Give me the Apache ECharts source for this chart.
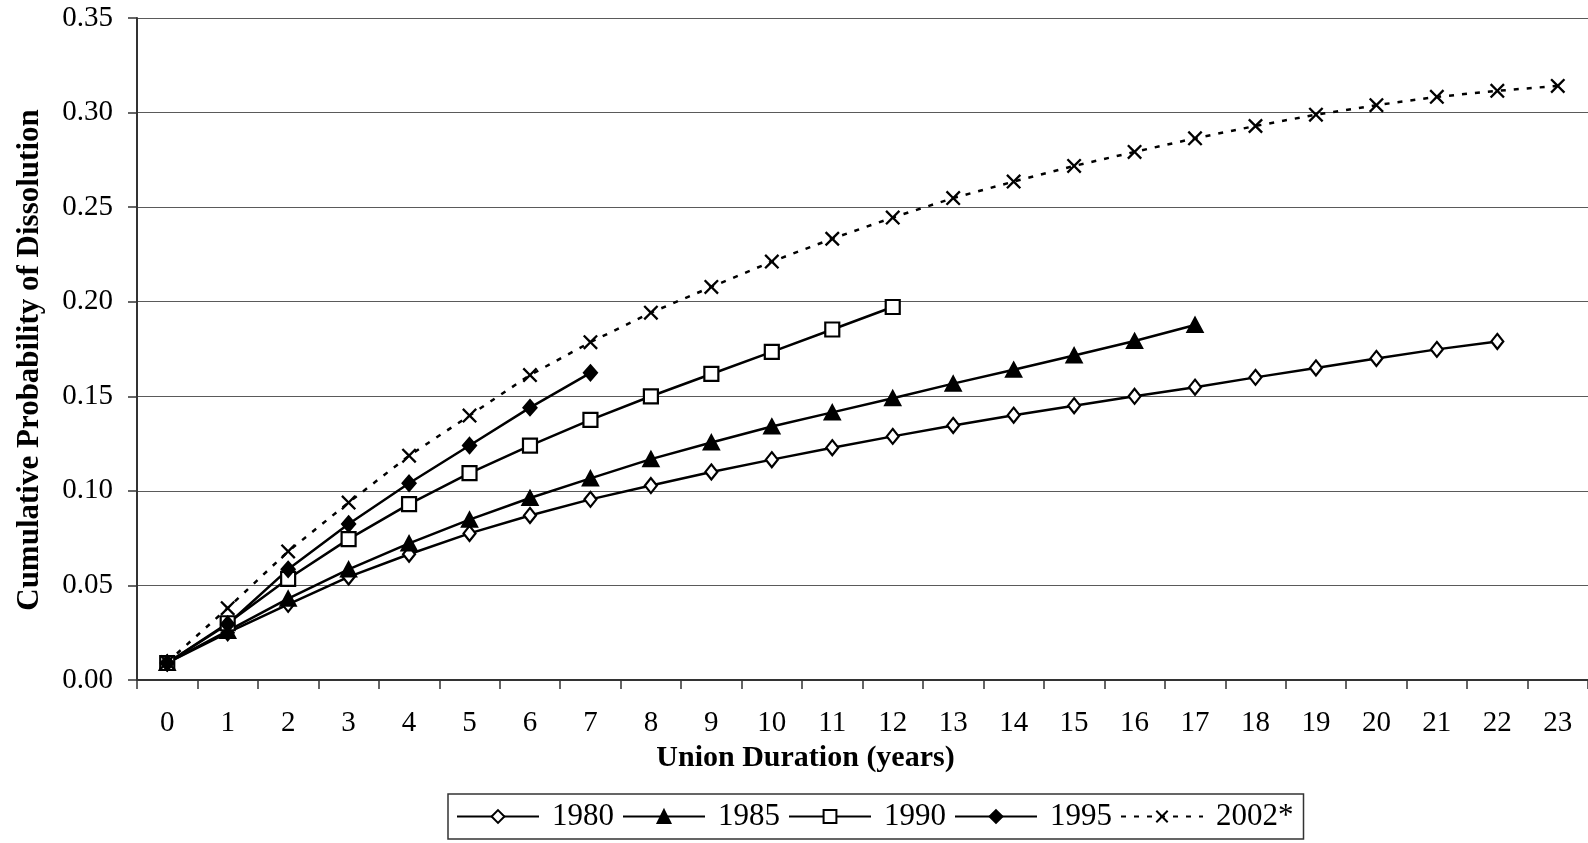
<!DOCTYPE html>
<html><head><meta charset="utf-8">
<script src="https://cdn.jsdelivr.net/npm/echarts@6/dist/echarts.min.js"></script>
<style>html,body{margin:0;padding:0;background:#fff;overflow:hidden}#c{width:1588px;height:843px}</style>
</head><body><div id="c"></div>
<script>
const categories = ['0','1','2','3','4','5','6','7','8','9','10','11','12','13','14','15','16','17','18','19','20','21','22','23'];
const yTicks = [0, 0.05, 0.10, 0.15, 0.20, 0.25, 0.30, 0.35];
const legendNames = ['1980', '1985', '1990', '1995', '2002*'];
const s1980 = [0.009,0.025,0.040,0.0545,0.0665,0.0775,0.087,0.0955,0.1028,0.110,0.1165,0.1228,0.1288,0.1346,0.140,0.145,0.150,0.1548,0.160,0.165,0.170,0.1748,0.179];
const s1985 = [0.009,0.026,0.043,0.0585,0.0722,0.0848,0.0962,0.1066,0.1168,0.1256,0.134,0.1415,0.149,0.1567,0.164,0.1716,0.1792,0.1877];
const s1990 = [0.009,0.030,0.0535,0.0745,0.093,0.1094,0.1239,0.1375,0.150,0.1618,0.1735,0.1853,0.1972];
const s1995 = [0.009,0.0295,0.0585,0.0825,0.104,0.124,0.144,0.1624];
const s2002 = [0.0094,0.038,0.068,0.0938,0.1186,0.1398,0.1612,0.1786,0.1942,0.2078,0.2212,0.2333,0.2445,0.2548,0.2635,0.2718,0.2792,0.2864,0.2929,0.2989,0.3039,0.3083,0.3115,0.3141];

const FONT = "'Liberation Serif','Times New Roman',serif";
const t = 1.1;
const xPath = `path://M0,${t}L${t},0L5,${5-t}L${10-t},0L10,${t}L${5+t},5L10,${10-t}L${10-t},10L5,${5+t}L${t},10L0,${10-t}L${5-t},5Z`;

function mk(name, data, symbol, size, fill, dashed) {
  return {
    name, type: 'line', data, symbol, symbolSize: size, showAllSymbol: true,
    lineStyle: { color: '#000', width: 2.5, type: dashed ? [5, 8] : 'solid' },
    itemStyle: { color: fill, borderColor: '#000', borderWidth: symbol === xPath ? 0 : 2.2 },
    emphasis: { disabled: true }, z: 3, animation: false
  };
}

const chart = echarts.init(document.getElementById('c'));
chart.setOption({
  animation: false,
  grid: { left: 137, top: 18, width: 1454, height: 662 },
  xAxis: {
    type: 'category', data: categories, boundaryGap: true,
    name: 'Union Duration (years)', nameLocation: 'middle', nameGap: 62,
    nameTextStyle: { fontFamily: FONT, fontSize: 30, fontWeight: 'bold', color: '#000', padding: [0, 114, 0, 0] },
    axisLine: { lineStyle: { color: '#333', width: 2 } },
    axisTick: { show: true, length: 9, lineStyle: { color: '#333', width: 1.5 } },
    axisLabel: { fontFamily: FONT, fontSize: 29, color: '#000', margin: 29 },
    splitLine: { show: false }
  },
  yAxis: {
    type: 'value', min: 0, max: 0.35, interval: 0.05,
    name: 'Cumulative Probability of Dissolution', nameLocation: 'middle', nameGap: 92,
    nameTextStyle: { fontFamily: FONT, fontSize: 31, fontWeight: 'bold', color: '#000', padding: [0, 22, 0, 0] },
    axisLine: { show: true, lineStyle: { color: '#333', width: 2 } },
    axisTick: { show: true, length: 9, lineStyle: { color: '#333', width: 1.5 } },
    axisLabel: { fontFamily: FONT, fontSize: 29, color: '#000', margin: 24,
      formatter: v => { const m = yTicks.find(x => Math.abs(x - v) < 1e-9); return (m !== undefined ? m : v).toFixed(2); } },
    splitLine: { show: true, lineStyle: { color: '#5a5a5a', width: 1.2 } }
  },
  legend: {
    left: 448, top: 794, orient: 'horizontal',
    borderColor: '#333', borderWidth: 1.5, padding: [7, 10, 7, 8],
    itemWidth: 82, itemHeight: 16, itemGap: 8,
    textStyle: { fontFamily: FONT, fontSize: 31, color: '#000', padding: [0, 0, 0, 8] },
    data: legendNames
  },
  series: [
    mk(legendNames[0], s1980, 'diamond', [12, 15], '#fff', false),
    mk(legendNames[1], s1985, 'triangle', [15, 14], '#000', false),
    mk(legendNames[2], s1990, 'rect', [14, 14], '#fff', false),
    mk(legendNames[3], s1995, 'diamond', [13, 15], '#000', false),
    mk(legendNames[4], s2002, xPath, [15, 15], '#000', true)
  ]
});
</script></body></html>
